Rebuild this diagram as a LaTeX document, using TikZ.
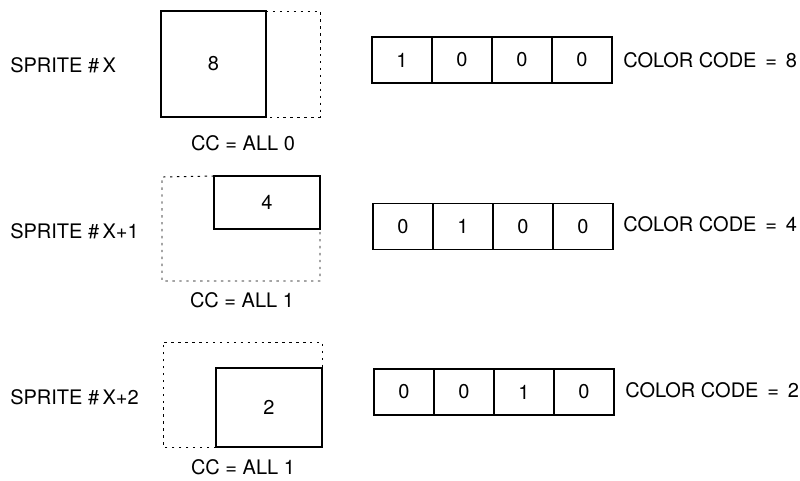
\documentclass[tikz,border=0pt]{standalone}
\usepackage{fontspec}
\setmainfont{TeX Gyre Heros}
\usetikzlibrary{positioning}

\begin{document}
\begin{tikzpicture}[
 x=0.75pt, y=-0.75pt,
 lbl/.style={font=\fontsize{15}{17}\selectfont, inner sep=0pt},
 spr/.style={draw, line width=0.9pt, lbl, outer sep=0pt},
 ghost/.style={line width=0.7pt, dash pattern=on 1.8pt off 3.4pt},
 cell/.style={draw, line width=0.9pt, lbl, outer sep=0pt,
              minimum width=45pt, minimum height=34.5pt},
]
 \useasboundingbox (0,0) rectangle (800,480);

 % sprite #X : full size, shifted left
 \node[lbl, anchor=west] (nameA) at (10,65) {SPRITE \#\,X};
 \node[spr, minimum width=78.75pt, minimum height=79.5pt] (sprA) at (213.5,64) {8};
 \draw[ghost] (sprA.north east) -- (320,11) -- (320,117) -- (sprA.south east);
 \node[lbl] (ccA) at (243,143) {CC = ALL 0};

 % sprite #X+1 : upper right part
 \node[lbl, anchor=west] (nameB) at (10,231) {SPRITE \#\,X+1};
 \node[spr, minimum width=79.5pt, minimum height=39.75pt] (sprB) at (267,202.5) {4};
 \draw[ghost] (sprB.north west) -- (162,177) -- (162,281) -- (320,281) -- (sprB.south east);
 \node[lbl] (ccB) at (242,300) {CC = ALL 1};

 % sprite #X+2 : lower right part
 \node[lbl, anchor=west] (nameC) at (10,397) {SPRITE \#\,X+2};
 \node[spr, minimum width=79.5pt, minimum height=59.25pt] (sprC) at (269,407.5) {2};
 \draw[ghost] (sprC.south west) -- (163,447) -- (163,342) -- (322,342) -- (sprC.north east);
 \node[lbl] (ccC) at (243,467) {CC = ALL 1};

 % colour code registers
 \node[cell, anchor=west] (a1) at (372,60) {1};
 \node[cell, right=0pt of a1] (a2) {0};
 \node[cell, right=0pt of a2] (a3) {0};
 \node[cell, right=0pt of a3] (a4) {0};
 \node[lbl, anchor=west] (codeA) at (623,60) {COLOR CODE \,=\, 8};

 \node[cell, anchor=west] (b1) at (373,226.5) {0};
 \node[cell, right=0pt of b1] (b2) {1};
 \node[cell, right=0pt of b2] (b3) {0};
 \node[cell, right=0pt of b3] (b4) {0};
 \node[lbl, anchor=west] (codeB) at (623,224) {COLOR CODE \,=\, 4};

 \node[cell, anchor=west] (c1) at (374,392) {0};
 \node[cell, right=0pt of c1] (c2) {0};
 \node[cell, right=0pt of c2] (c3) {1};
 \node[cell, right=0pt of c3] (c4) {0};
 \node[lbl, anchor=west] (codeC) at (625,390) {COLOR CODE \,=\, 2};
\end{tikzpicture}
\end{document}
